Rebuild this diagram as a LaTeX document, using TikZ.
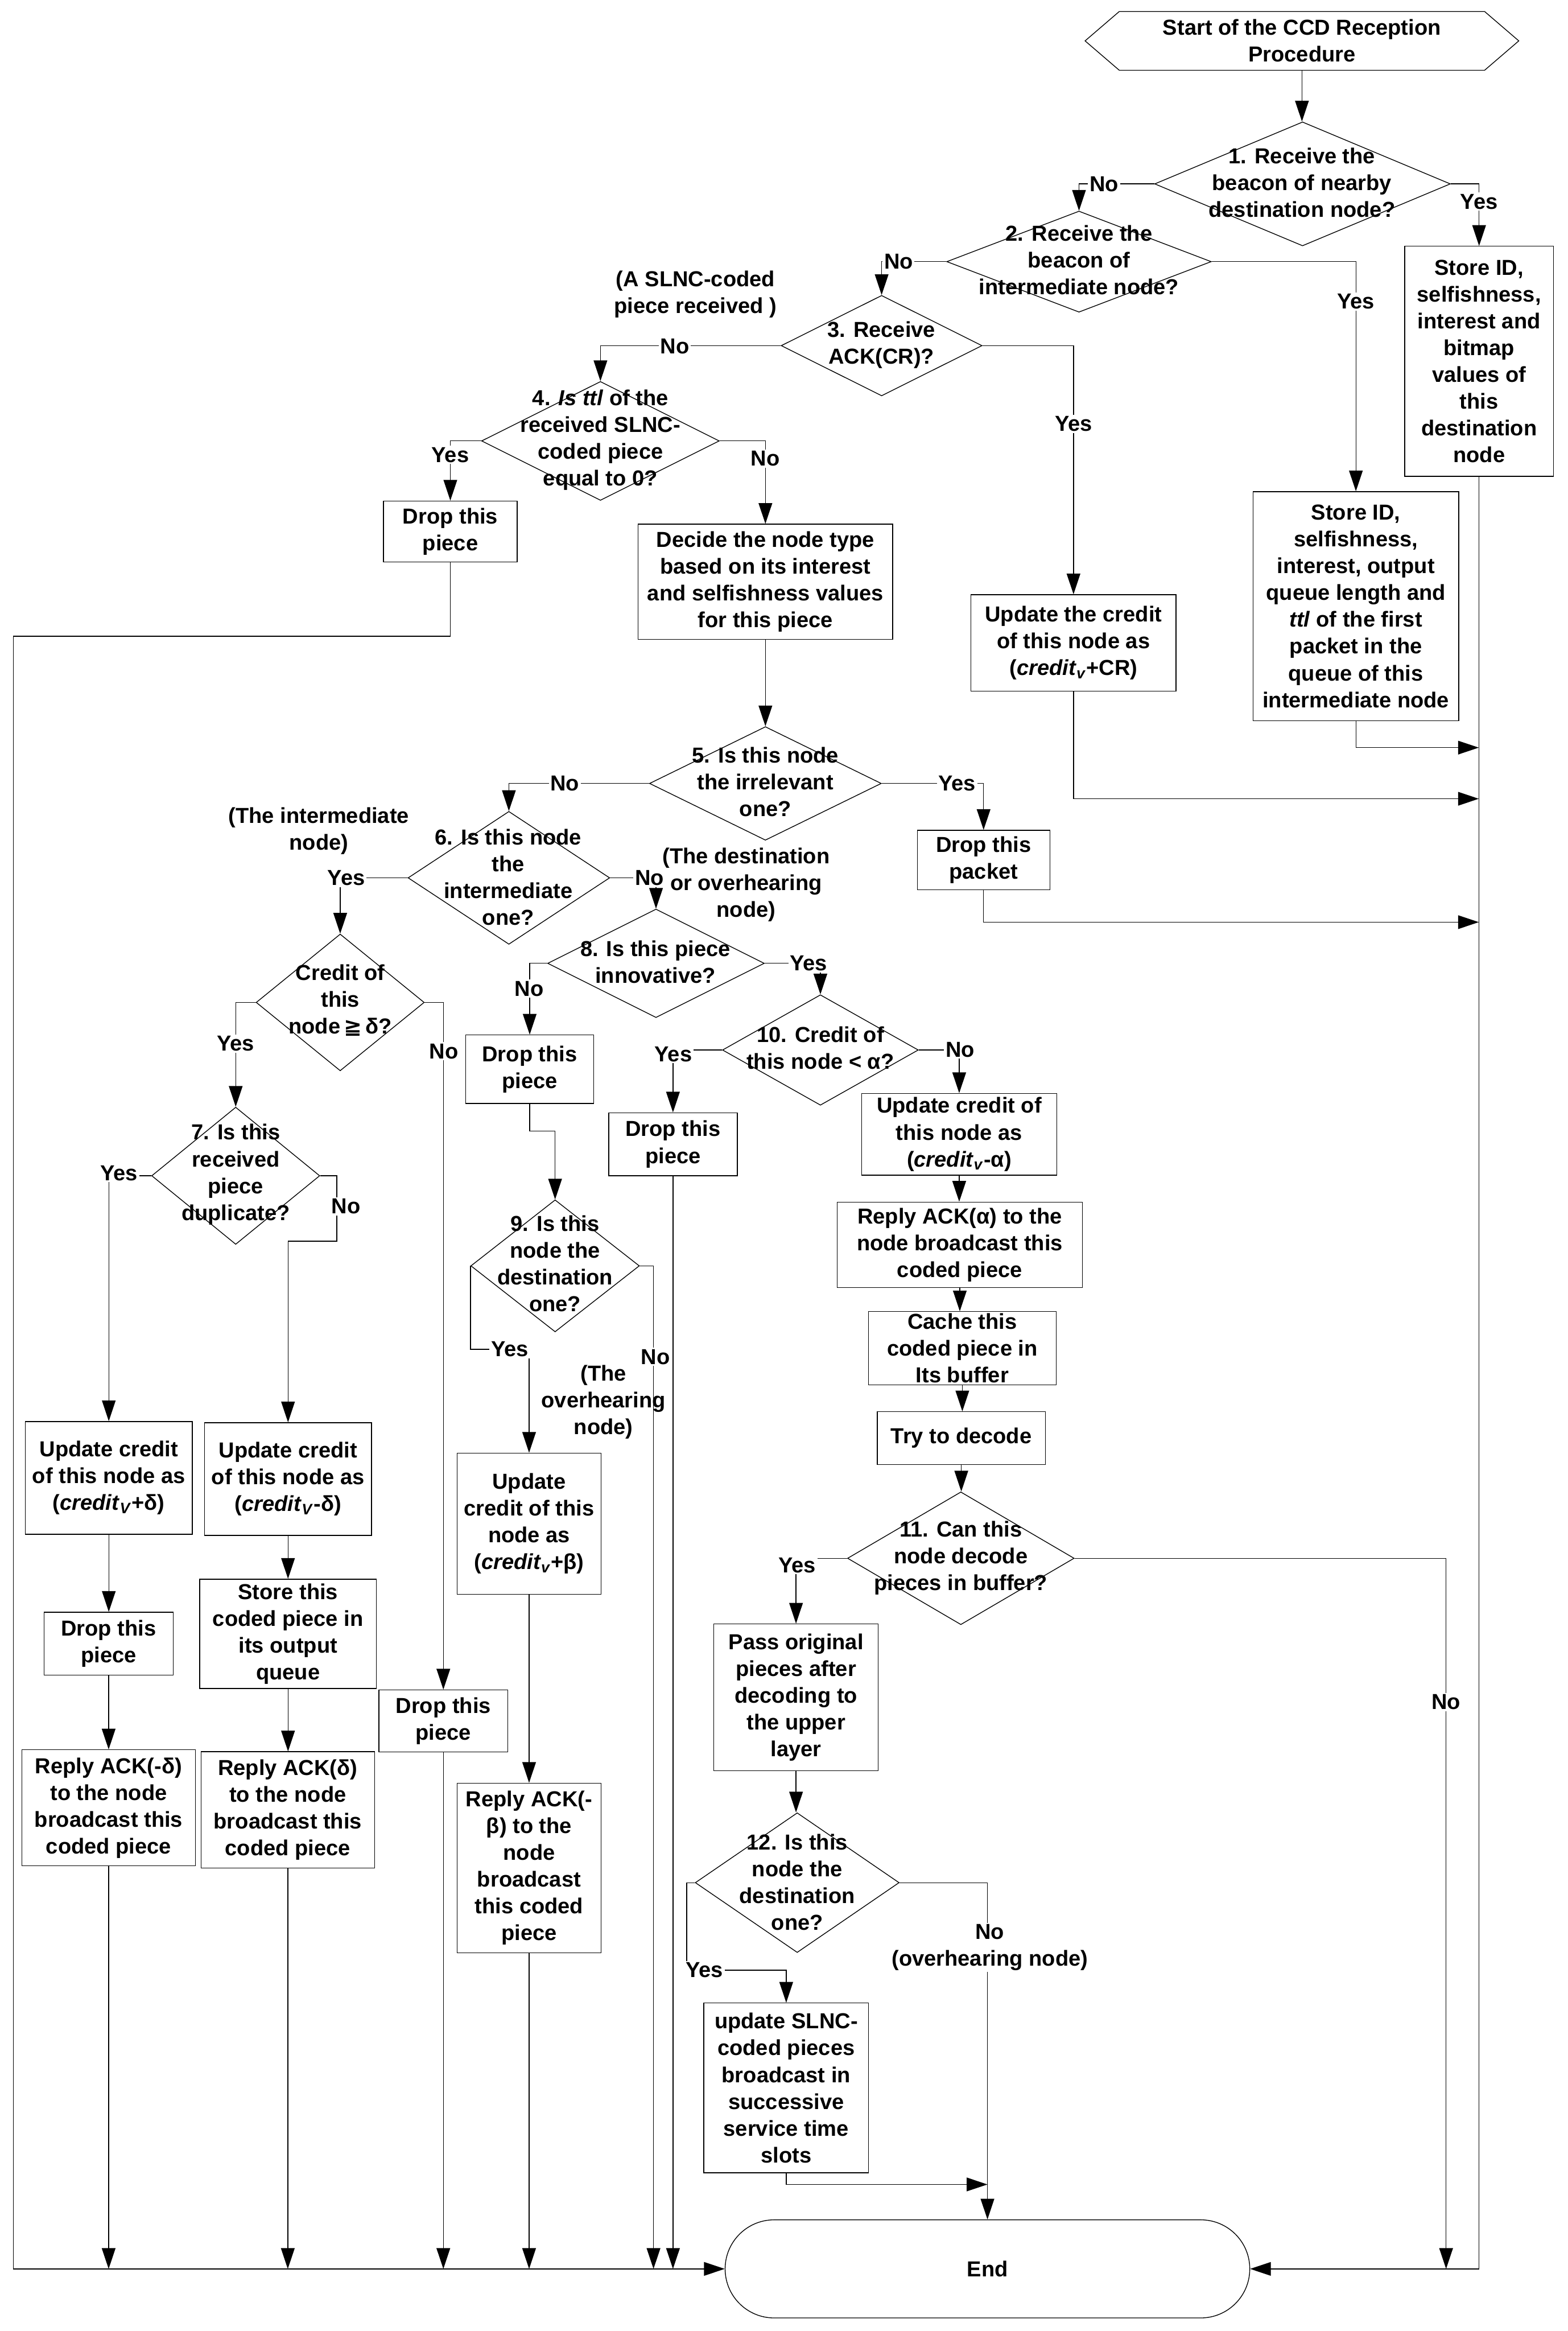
\documentclass[tikz,border=0pt]{standalone}
\usepackage{fontspec}
\setmainfont{Liberation Sans}
\newfontfamily\djv{DejaVu Sans}
\usetikzlibrary{arrows.meta,shapes.geometric,shapes.misc,calc}
\newcommand{\un}{0.03375cm}
\tikzset{
  every node/.style={font=\fontsize{14}{17.3}\selectfont\bfseries},
  box/.style={draw, rectangle, inner sep=0pt, align=center},
  dia/.style={draw, diamond, inner sep=0pt},
  txt/.style={align=center, inner sep=0pt},
  lbl/.style={fill=white, inner sep=1pt, align=center},
  arr/.style={-{Triangle[length=0.47cm, width=0.31cm]}},
}
\begin{document}
\begin{tikzpicture}[x=0.03375cm, y=-0.03375cm, line width=0.5pt]
\useasboundingbox (0,0) rectangle (1055,1568);

% ---------- start ----------
\node[minimum width=291.3*\un, minimum height=39*\un, inner sep=0pt, align=center] (start) at (876,27.5) {Start of the CCD Reception\\Procedure};
\draw ($(start.north west)+(23,0)$) -- ($(start.north east)+(-23,0)$) -- (start.east) -- ($(start.south east)+(-23,0)$) -- ($(start.south west)+(23,0)$) -- (start.west) -- cycle;

% ---------- diamonds ----------
\node[dia, minimum width=199*\un, minimum height=83.4*\un] (d1) at (876.4,123.7) {};
\node[txt] (d1t) at (876,123) {1. Receive the\\beacon of nearby\\destination node?};
\node[dia, minimum width=178*\un, minimum height=68*\un] (d2) at (726,176) {};
\node[txt] (d2t) at (726,175) {2. Receive the\\beacon of\\intermediate node?};
\node[dia, minimum width=135.2*\un, minimum height=67.6*\un] (d3) at (593.2,232.5) {};
\node[txt] (d3t) at (593,232) {3. Receive\\ACK(CR)?};
\node[dia, minimum width=160*\un, minimum height=80*\un] (d4) at (404,296.6) {};
\node[txt] (d4t) at (404,296) {4. \textit{Is ttl} of the\\received SLNC-\\coded piece\\equal to 0?};
\node[dia, minimum width=156*\un, minimum height=76.4*\un] (d5) at (515,527) {};
\node[txt] (d5t) at (515,526) {5. Is this node\\the irrelevant\\one?};
\node[dia, minimum width=135.7*\un, minimum height=89.4*\un] (d6) at (342.4,590.5) {};
\node[txt] (d6t) at (342,590) {6. Is this node\\the\\intermediate\\one?};
\node[dia, minimum width=145.8*\un, minimum height=73*\un] (d8) at (441.4,648) {};
\node[txt] (d8t) at (441,647) {8. Is this piece\\innovative?};
\node[dia, minimum width=131.8*\un, minimum height=74.3*\un] (d10) at (552,706.3) {};
\node[txt] (d10t) at (552,705) {10. Credit of\\this node < α?};
\node[dia, minimum width=113.1*\un, minimum height=92*\un] (dc) at (228.9,674.3) {};
\node[txt] (dct) at (229,673) {Credit of\\this\\node\,{\djv\bfseries ≧}\,δ?};
\node[dia, minimum width=113.1*\un, minimum height=92.3*\un] (d7) at (158.6,790.9) {};
\node[txt] (d7t) at (158.6,790) {7. Is this\\received\\piece\\duplicate?};
\node[dia, minimum width=113.4*\un, minimum height=88.8*\un] (d9) at (373.5,851.5) {};
\node[txt] (d9t) at (373.5,850) {9. Is this\\node the\\destination\\one?};
\node[dia, minimum width=152.5*\un, minimum height=89.3*\un] (d11) at (646.5,1048.2) {};
\node[txt] (d11t) at (646.5,1048) {11. Can this\\node decode\\pieces in buffer?};
\node[dia, minimum width=137.2*\un, minimum height=94*\un] (d12) at (536.4,1266.4) {};
\node[txt] (d12t) at (536.4,1266) {12. Is this\\node the\\destination\\one?};

% ---------- boxes ----------
\node[box, minimum width=100*\un, minimum height=154.7*\un] (sb1) at (995.2,243) {Store ID,\\selfishness,\\interest and\\bitmap\\values of\\this\\destination\\node};
\node[box, minimum width=138.3*\un, minimum height=154.2*\un] (sb2) at (912.3,407.8) {Store ID,\\selfishness,\\interest, output\\queue length and\\\textit{ttl} of the first\\packet in the\\queue of this\\intermediate node};
\node[box, minimum width=138*\un, minimum height=65*\un] (ucr) at (722.3,432.5) {Update the credit\\of this node as\\(\textit{credit}\textsubscript{\textit{v}}+CR)};
\node[box, minimum width=90*\un, minimum height=41*\un] (drop1) at (303,357.5) {Drop this\\piece};
\node[box, minimum width=171.3*\un, minimum height=77.6*\un] (decide) at (515,391.4) {Decide the node type\\based on its interest\\and selfishness values\\for this piece};
\node[box, minimum width=89.2*\un, minimum height=40*\un] (droppk) at (661.8,578.5) {Drop this\\packet};
\node[box, minimum width=86.2*\un, minimum height=46*\un] (drop2) at (356.4,719.2) {Drop this\\piece};
\node[box, minimum width=86.5*\un, minimum height=42.3*\un] (drop3) at (452.8,769.7) {Drop this\\piece};
\node[box, minimum width=131.2*\un, minimum height=54.9*\un] (ua) at (645.4,763) {Update credit of\\this node as\\(\textit{credit}\textsubscript{\textit{v}}-α)};
\node[box, minimum width=165.1*\un, minimum height=57.6*\un] (rack) at (645.8,837.4) {Reply ACK(α) to the\\node broadcast this\\coded piece};
\node[box, minimum width=126.5*\un, minimum height=49.2*\un] (cache) at (647.5,906.9) {Cache this\\coded piece in\\Its buffer};
\node[box, minimum width=113*\un, minimum height=35.6*\un] (trydec) at (646.8,967.4) {Try to decode};
\node[box, minimum width=96.9*\un, minimum height=94.9*\un] (ub) at (356,1024.9) {Update\\credit of this\\node as\\(\textit{credit}\textsubscript{\textit{v}}+β)};
\node[box, minimum width=96.9*\un, minimum height=114*\un] (rb) at (356,1256.5) {Reply ACK(-\\β) to the\\node\\broadcast\\this coded\\piece};
\node[box, minimum width=112.4*\un, minimum height=75.8*\un] (upd1) at (73.2,994.1) {Update credit\\of this node as\\(\textit{credit}\textsubscript{\textit{V}}+δ)};
\node[box, minimum width=86.8*\un, minimum height=42.3*\un] (drop4) at (73.1,1105.6) {Drop this\\piece};
\node[box, minimum width=116.8*\un, minimum height=78.1*\un] (r1) at (73.1,1216.1) {Reply ACK(-δ)\\to the node\\broadcast this\\coded piece};
\node[box, minimum width=112.4*\un, minimum height=75.8*\un] (upd2) at (193.8,994.9) {Update credit\\of this node as\\(\textit{credit}\textsubscript{\textit{V}}-δ)};
\node[box, minimum width=118.8*\un, minimum height=73.5*\un] (store) at (193.8,1099) {Store this\\coded piece in\\its output\\queue};
\node[box, minimum width=116.7*\un, minimum height=78.1*\un] (r2) at (193.65,1217.4) {Reply ACK(δ)\\to the node\\broadcast this\\coded piece};
\node[box, minimum width=86.6*\un, minimum height=41.7*\un] (drop5) at (298.3,1157.6) {Drop this\\piece};
\node[box, minimum width=110.6*\un, minimum height=98.6*\un] (pass) at (535.6,1141.7) {Pass original\\pieces after\\decoding to\\the upper\\layer};
\node[box, minimum width=110.9*\un, minimum height=114.2*\un] (slnc) at (529,1404.5) {update SLNC-\\coded pieces\\broadcast in\\successive\\service time\\slots};
\node[draw, rounded rectangle, minimum width=353*\un, minimum height=66*\un, inner sep=0pt] (end) at (664.4,1526.2) {End};

% ---------- free texts ----------
\node[txt] (n1) at (468,198) {(A SLNC-coded\\piece received )};
\node[txt] (n2) at (214.5,559) {(The intermediate\\node)};
\node[txt] (n3) at (502,595) {(The destination\\or overhearing\\node)};
\node[txt] (n4) at (406,943) {(The\\overhearing\\node)};

% ---------- helper coordinates ----------
\coordinate (bl) at (0,1526.2);
\coordinate (lt) at (9,428);
\coordinate (j1) at (995,502.9);
\coordinate (j2) at (995,537.3);
\coordinate (j3) at (995,620.3);
\coordinate (j4) at (664.4,1469.4);
\coordinate (b7) at (973,1526.2);
\coordinate (b5) at (439.7,1526.2);
\coordinate (c7) at (226.6,834.9);
\coordinate (yc) at (462,1325.3);

% ---------- connectors ----------
\draw[arr] (start.south) -- (start.south |- d1.north);
\draw[arr] (d1.west) -| (d2.north);
\draw[arr] (d1.east) -| (sb1.north);
\draw[arr] (d2.west) -| (d3.north);
\draw[arr] (d2.east) -| (sb2.north);
\draw[arr] (sb1.south) |- (end.east);
\draw[arr] (sb2.south) |- (j1);
\draw[arr] (d3.west) -| (d4.north);
\draw[arr] (d3.east) -| (ucr.north);
\draw[arr] (ucr.south) |- (j2);
\draw[arr] (d4.west) -| (drop1.north);
\draw[arr] (d4.east) -| (decide.north);
\draw[arr] (drop1.south) |- (lt) |- (end.west);
\draw[arr] (decide.south) -- (decide.south |- d5.north);
\draw[arr] (d5.west) -| (d6.north);
\draw[arr] (d5.east) -| (droppk.north);
\draw[arr] (droppk.south) |- (j3);
\draw[arr] (d6.west) -| (dc.north);
\draw[arr] (d6.east) -| (d8.north);
\draw[arr] (d8.west) -| (drop2.north);
\draw[arr] (d8.east) -| (d10.north);
\draw[arr] (drop2.south) -- ++(0,18.4) -| (d9.north);
\draw[arr] (d10.west) -| (drop3.north);
\draw[arr] (d10.east) -| (ua.north);
\draw[arr] (drop3.south) -- (drop3.south |- bl);
\draw[arr] (ua.south) -- (ua.south |- rack.north);
\draw[arr] (rack.south) -- (rack.south |- cache.north);
\draw[arr] (cache.south) -- (cache.south |- trydec.north);
\draw[arr] (trydec.south) -- (trydec.south |- d11.north);
\draw[arr] (d11.west) -| (pass.north);
\draw[arr] (d11.east) -| (b7);
\draw[arr] (pass.south) -- (pass.south |- d12.north);
\draw[arr] (d12.west) -| (yc) -| (slnc.north);
\draw[arr] (d12.east) -| (end.north);
\draw[arr] (slnc.south) |- (j4);
\draw[arr] (dc.west) -| (d7.north);
\draw[arr] (dc.east) -| (drop5.north);
\draw[arr] (drop5.south) -- (drop5.south |- bl);
\draw[arr] (d7.west) -| (upd1.north);
\draw[arr] (d7.east) -| (c7) -| (upd2.north);
\draw[arr] (upd1.south) -- (upd1.south |- drop4.north);
\draw[arr] (drop4.south) -- (drop4.south |- r1.north);
\draw[arr] (r1.south) -- (r1.south |- bl);
\draw[arr] (upd2.south) -- (upd2.south |- store.north);
\draw[arr] (store.south) -- (store.south |- r2.north);
\draw[arr] (r2.south) -- (r2.south |- bl);
\draw[arr] (d9.west) -- ++(0,56.1) -| (ub.north);
\draw[arr] (d9.east) -| (b5);
\draw[arr] (ub.south) -- (ub.south |- rb.north);
\draw[arr] (rb.south) -- (rb.south |- bl);

% ---------- yes / no labels ----------
\node[lbl] (y1) at (742.8,124) {No};
\node[lbl] (y2) at (995.2,135.6) {Yes};
\node[lbl] (y3) at (604.6,176) {No};
\node[lbl] (y4) at (912.3,202.8) {Yes};
\node[lbl] (y5) at (454,232.8) {No};
\node[lbl] (y6) at (722.3,285.2) {Yes};
\node[lbl] (y7) at (303,306) {Yes};
\node[lbl] (y8) at (514.9,308.5) {No};
\node[lbl] (y9) at (380,527) {No};
\node[lbl] (y10) at (644,527) {Yes};
\node[lbl] (y11) at (233,590.5) {Yes};
\node[lbl] (y12) at (437,590.5) {No};
\node[lbl] (y13) at (356,665) {No};
\node[lbl] (y14) at (544,648) {Yes};
\node[lbl] (y15) at (453,709) {Yes};
\node[lbl] (y16) at (646,706) {No};
\node[lbl] (y17) at (158.6,702) {Yes};
\node[lbl] (y18) at (298.7,707.2) {No};
\node[lbl] (y19) at (80,789) {Yes};
\node[lbl] (y20) at (232.8,811.5) {No};
\node[lbl] (y21) at (343,907.6) {Yes};
\node[lbl] (y22) at (441,912.7) {No};
\node[lbl] (y23) at (536.3,1052.8) {Yes};
\node[lbl] (y24) at (973,1145) {No};
\node[lbl] (y25) at (474,1325.3) {Yes};
\node[lbl] (y26) at (666,1310) {No\\(overhearing node)};
\end{tikzpicture}
\end{document}
